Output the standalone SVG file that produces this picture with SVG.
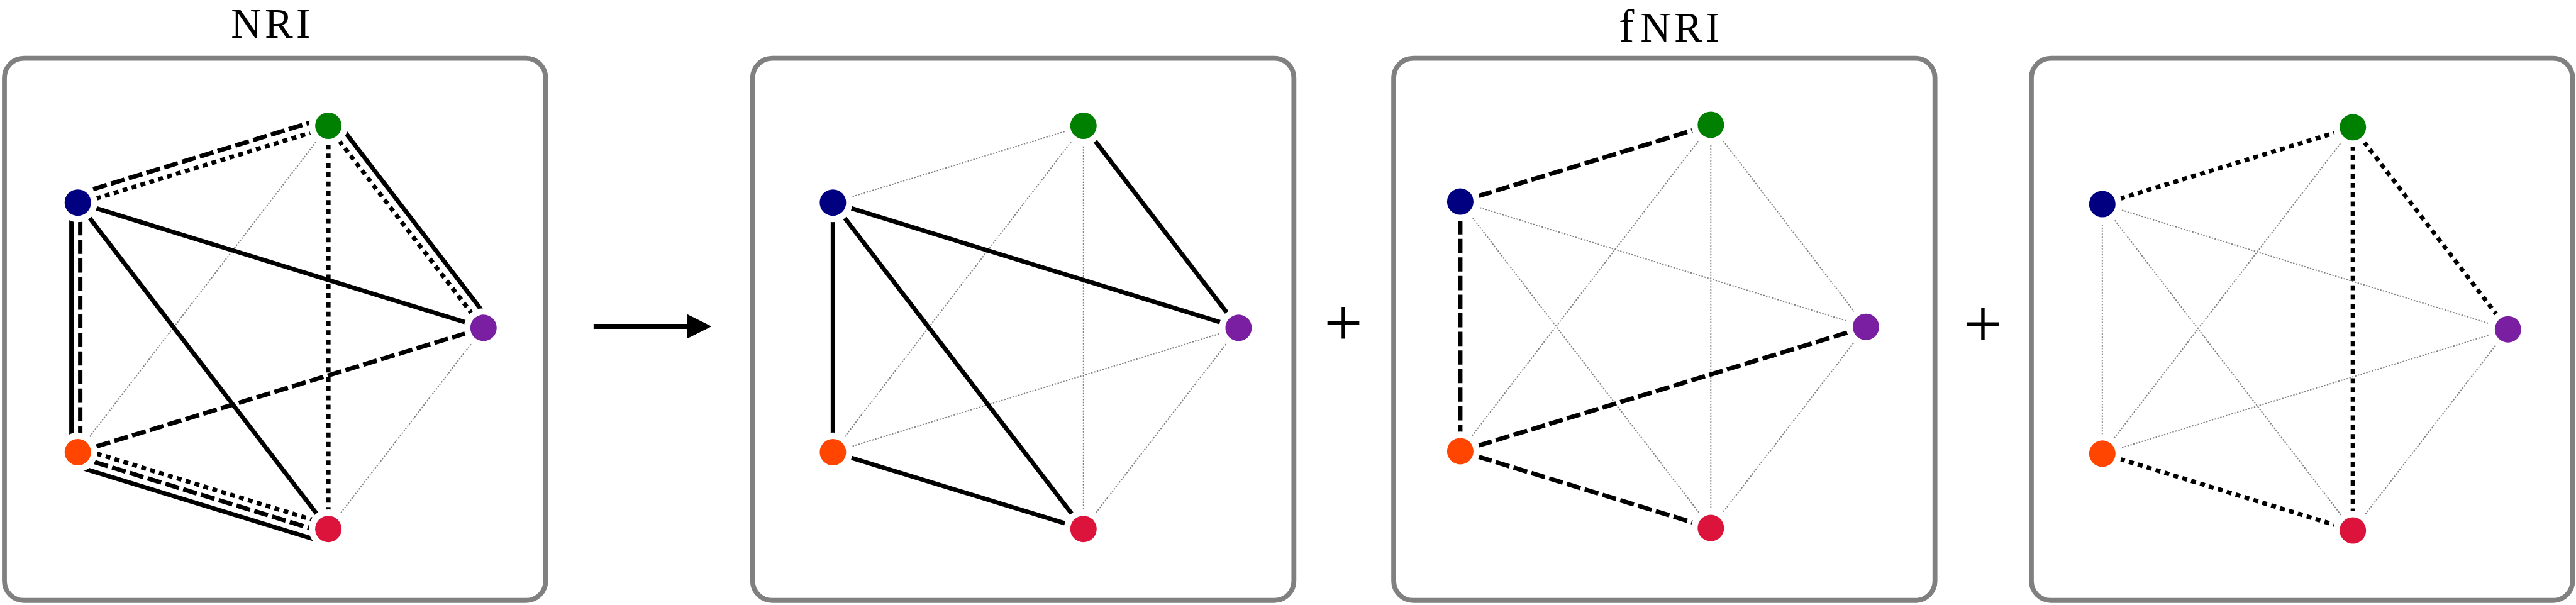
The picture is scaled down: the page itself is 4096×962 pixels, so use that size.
<svg xmlns="http://www.w3.org/2000/svg" width="4096" height="962" viewBox="0 0 4096 962">
<style>
.box{fill:none;stroke:#808080;stroke-width:10}
.e{stroke:#000;stroke-width:9;fill:none}
.dash{stroke-dasharray:29 9}
.dot{stroke-dasharray:10 9}
.gr{stroke:#808080;stroke-width:2.5;stroke-dasharray:3 3;fill:none}
.n{stroke:#fff;stroke-width:26;paint-order:stroke}
.t{font-family:"Liberation Serif","Times New Roman",serif;fill:#000}
.blue{fill:#000080}.green{fill:#008000}.purple{fill:#7b1fa2}.orange{fill:#ff4500}.red{fill:#dc143c}
</style>
<defs>
<marker id="ah" markerUnits="userSpaceOnUse" viewBox="0 0 50 50" markerWidth="50" markerHeight="50" refX="0" refY="25" orient="auto"><path d="M0,0 L50,25 L0,50 z" fill="#000"/></marker>
</defs>
<rect width="4096" height="962" fill="#fff"/>
<g transform="scale(0.77812)">
<g id="titles">
<text class="t" x="472" y="77" font-size="86" letter-spacing="7">NRI</text>
<text class="t" y="85"><tspan x="3308" font-size="94">f</tspan><tspan x="3352" font-size="86" letter-spacing="7">NRI</tspan></text>
<text class="t" x="2745" y="706" font-size="140" text-anchor="middle">+</text>
<text class="t" x="4052" y="708" font-size="140" text-anchor="middle">+</text>
</g>
<g id="panels">
<rect id="panel-nri" class="box" x="9" y="119" width="1106" height="1108" rx="40"/>
<rect id="panel-sum1" class="box" x="1538" y="119" width="1106" height="1108" rx="40"/>
<rect id="panel-sum2" class="box" x="2848" y="119" width="1106" height="1108" rx="40"/>
<rect id="panel-sum3" class="box" x="4151" y="119" width="1106" height="1108" rx="40"/>
</g>
<g id="connectors">
<!-- panel 1 -->
<line class="gr" x1="671" y1="257" x2="159" y2="924"/>
<line class="gr" x1="988" y1="670" x2="671" y2="1081"/>
<line class="e dash" x1="154" y1="397.7" x2="666" y2="240.7"/>
<line class="e dot" x1="159.9" y1="416.9" x2="671.9" y2="259.9"/>
<line class="e" x1="159" y1="414" x2="988" y2="670"/>
<line class="e" x1="146" y1="414" x2="146" y2="924"/>
<line class="e dash" x1="164" y1="414" x2="164" y2="924"/>
<line class="e" x1="159" y1="414" x2="671" y2="1081"/>
<line class="e" x1="686.1" y1="245.4" x2="1003.1" y2="658.4"/>
<line class="e dot" x1="670.2" y1="257.6" x2="987.2" y2="670.6"/>
<line class="e dot" x1="671" y1="257" x2="671" y2="1081"/>
<line class="e dash" x1="988" y1="670" x2="159" y2="924"/>
<line class="e dot" x1="161.5" y1="915.9" x2="673.5" y2="1072.9"/>
<line class="e dash" x1="156.3" y1="932.9" x2="668.3" y2="1089.9"/>
<line class="e" x1="150.7" y1="951.2" x2="662.7" y2="1108.2"/>
<!-- arrow -->
<line x1="1213" y1="667" x2="1404" y2="667" stroke="#000" stroke-width="10" marker-end="url(#ah)"/>
<!-- panel 2 -->
<line class="gr" x1="1702" y1="414" x2="2214" y2="257"/>
<line class="gr" x1="2214" y1="257" x2="1702" y2="924"/>
<line class="gr" x1="2214" y1="257" x2="2214" y2="1081"/>
<line class="gr" x1="2531" y1="670" x2="1702" y2="924"/>
<line class="gr" x1="2531" y1="670" x2="2214" y2="1081"/>
<line class="e" x1="1702" y1="414" x2="1702" y2="924"/>
<line class="e" x1="1702" y1="414" x2="2531" y2="670"/>
<line class="e" x1="1702" y1="414" x2="2214" y2="1081"/>
<line class="e" x1="2214" y1="257" x2="2531" y2="670"/>
<line class="e" x1="1702" y1="924" x2="2214" y2="1081"/>
<!-- panel 3 -->
<line class="gr" x1="2984" y1="412" x2="3813" y2="668"/>
<line class="gr" x1="2984" y1="412" x2="3496" y2="1079"/>
<line class="gr" x1="3496" y1="255" x2="2984" y2="922"/>
<line class="gr" x1="3496" y1="255" x2="3496" y2="1079"/>
<line class="gr" x1="3496" y1="255" x2="3813" y2="668"/>
<line class="gr" x1="3813" y1="668" x2="3496" y2="1079"/>
<line class="e dash" x1="2984" y1="412" x2="3496" y2="255"/>
<line class="e dash" x1="2984" y1="412" x2="2984" y2="922"/>
<line class="e dash" x1="2984" y1="922" x2="3813" y2="668"/>
<line class="e dash" x1="2984" y1="922" x2="3496" y2="1079"/>
<!-- panel 4 -->
<line class="gr" x1="4296" y1="417" x2="5125" y2="673"/>
<line class="gr" x1="4296" y1="417" x2="4296" y2="927"/>
<line class="gr" x1="4296" y1="417" x2="4808" y2="1084"/>
<line class="gr" x1="4808" y1="260" x2="4296" y2="927"/>
<line class="gr" x1="4296" y1="927" x2="5125" y2="673"/>
<line class="gr" x1="5125" y1="673" x2="4808" y2="1084"/>
<line class="e dot" x1="4296" y1="417" x2="4808" y2="260"/>
<line class="e dot" x1="4808" y1="260" x2="4808" y2="1084"/>
<line class="e dot" x1="4808" y1="260" x2="5125" y2="673"/>
<line class="e dot" x1="4296" y1="927" x2="4808" y2="1084"/>
</g>
<g id="nodes">
<g id="p1-blue"><circle class="n blue" cx="159" cy="414" r="27"/></g>
<g id="p1-green"><circle class="n green" cx="671" cy="257" r="27"/></g>
<g id="p1-purple"><circle class="n purple" cx="988" cy="670" r="27"/></g>
<g id="p1-orange"><circle class="n orange" cx="159" cy="924" r="27"/></g>
<g id="p1-red"><circle class="n red" cx="671" cy="1081" r="27"/></g>
<g id="p2-blue"><circle class="n blue" cx="1702" cy="414" r="27"/></g>
<g id="p2-green"><circle class="n green" cx="2214" cy="257" r="27"/></g>
<g id="p2-purple"><circle class="n purple" cx="2531" cy="670" r="27"/></g>
<g id="p2-orange"><circle class="n orange" cx="1702" cy="924" r="27"/></g>
<g id="p2-red"><circle class="n red" cx="2214" cy="1081" r="27"/></g>
<g id="p3-blue"><circle class="n blue" cx="2984" cy="412" r="27"/></g>
<g id="p3-green"><circle class="n green" cx="3496" cy="255" r="27"/></g>
<g id="p3-purple"><circle class="n purple" cx="3813" cy="668" r="27"/></g>
<g id="p3-orange"><circle class="n orange" cx="2984" cy="922" r="27"/></g>
<g id="p3-red"><circle class="n red" cx="3496" cy="1079" r="27"/></g>
<g id="p4-blue"><circle class="n blue" cx="4296" cy="417" r="27"/></g>
<g id="p4-green"><circle class="n green" cx="4808" cy="260" r="27"/></g>
<g id="p4-purple"><circle class="n purple" cx="5125" cy="673" r="27"/></g>
<g id="p4-orange"><circle class="n orange" cx="4296" cy="927" r="27"/></g>
<g id="p4-red"><circle class="n red" cx="4808" cy="1084" r="27"/></g>
</g>
</g>
</svg>
